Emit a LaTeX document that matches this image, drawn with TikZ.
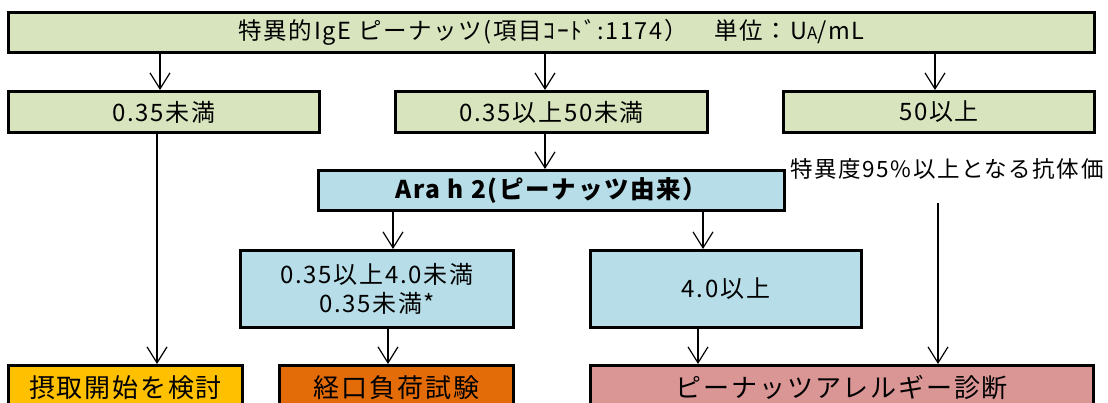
\documentclass[tikz,border=0pt]{standalone}
\usepackage{fontspec}
\setmainfont{Noto Sans CJK JP}[LetterSpace=7]
\usetikzlibrary{arrows.meta}
\definecolor{cgreen}{HTML}{D7E4BD}
\definecolor{cblue}{HTML}{B7DEE8}
\definecolor{cgold}{HTML}{FFC000}
\definecolor{corange}{HTML}{E36C09}
\definecolor{cpink}{HTML}{D99694}
\tikzset{
  box/.style={draw=black, line width=3pt, inner sep=0pt, anchor=north west, align=center},
  arr/.style={line width=1.2pt, -{Straight Barb[length=16pt,width=20pt,line width=1.2pt]}},
}
\begin{document}
\begin{tikzpicture}[x=1pt,y=-1pt]
\useasboundingbox (0,0) rectangle (1108,403);
\clip (0,0) rectangle (1108,403);
% row 1
\node[box, fill=cgreen, minimum width=1086pt, minimum height=40pt, font=\fontsize{23.5}{27}\selectfont] (top) at (7,11)
  {特異的IgE ピーナッツ(項目ｺｰﾄﾞ:1174）　単位：U{\fontsize{17}{19}\selectfont A}/mL};
% row 2
\node[box, fill=cgreen, minimum width=311pt, minimum height=41pt, font=\fontsize{24}{27}\selectfont] (r2a) at (7,90) {0.35未満};
\node[box, fill=cgreen, minimum width=312pt, minimum height=41pt, font=\fontsize{24}{27}\selectfont] (r2b) at (394,90) {0.35以上50未満};
\node[box, fill=cgreen, minimum width=311pt, minimum height=41pt, font=\fontsize{24}{27}\selectfont] (r2c) at (782,90) {50以上};
% Ara h 2
\node[box, fill=cblue, minimum width=466pt, minimum height=40pt, font=\fontsize{24.5}{27}\selectfont\bfseries] (ara) at (317,169) {Ara h 2(ピーナッツ由来）};
\node[font=\fontsize{22.5}{26}\selectfont, inner sep=0pt] (note) at (947,169) {特異度95\%以上となる抗体価};
\coordinate (ns) at (938,203);
% row 4
\node[box, fill=cblue, minimum width=273pt, minimum height=77pt, font=\fontsize{24}{29}\selectfont] (ra) at (239,249) {0.35以上4.0未満\\0.35未満*};
\node[box, fill=cblue, minimum width=271pt, minimum height=77pt, font=\fontsize{24}{27}\selectfont] (rb) at (589,249) {4.0以上};
% bottom row
\node[box, fill=cgold, minimum width=234pt, minimum height=44pt, font=\fontsize{26}{30}\selectfont] (b1) at (7,364) {摂取開始を検討};
\node[box, fill=corange, minimum width=234pt, minimum height=44pt, font=\fontsize{26}{30}\selectfont] (b2) at (278,364) {経口負荷試験};
\node[box, fill=cpink, minimum width=503pt, minimum height=44pt, font=\fontsize{26}{30}\selectfont] (b3) at (589,364) {ピーナッツアレルギー診断};
% arrows
\draw[arr] (top.south -| 160,0) -- (r2a.north -| 160,0);
\draw[arr] (top.south -| 545,0) -- (r2b.north -| 545,0);
\draw[arr] (top.south -| 935,0) -- (r2c.north -| 935,0);
\draw[arr] (r2b.south -| 545,0) -- (ara.north -| 545,0);
\draw[arr] (r2a.south -| 157,0) -- (b1.north -| 157,0);
\draw[arr] (ara.south -| 393,0) -- (ra.north -| 393,0);
\draw[arr] (ara.south -| 703,0) -- (rb.north -| 703,0);
\draw[arr] (ra.south -| 388,0) -- (b2.north -| 388,0);
\draw[arr] (rb.south -| 698,0) -- (b3.north -| 698,0);
\draw[arr] (ns) -- (b3.north -| ns);
\end{tikzpicture}
\end{document}
